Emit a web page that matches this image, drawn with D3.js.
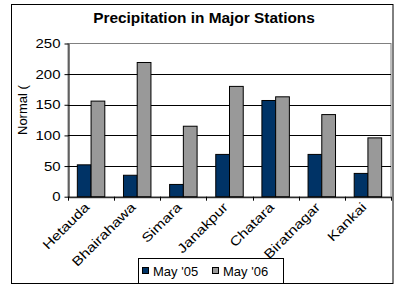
<!DOCTYPE html>
<html><head><meta charset="utf-8">
<script src="https://cdn.jsdelivr.net/npm/d3@7"></script>
<style>body{margin:0;background:#fff}svg{display:block}text{font-family:Arial,"Liberation Sans",sans-serif;fill:#000}</style>
</head><body><div id="c"></div>
<script>
const categories = ["Hetauda","Bhairahawa","Simara","Janakpur","Chatara","Biratnagar","Kankai"];
const may05 = [52, 35, 20, 69, 157, 69, 38];
const may06 = [156, 219, 115, 180, 163, 134, 96];
const seriesNames = ["May '05", "May '06"];
const yTicks = [0, 50, 100, 150, 200, 250];
const title = "Precipitation in Major Stations";
const yLabel = "Normal (";

const W = 398, H = 287;
const colors = ["#003366", "#999999"];
const svg = d3.select("#c").append("svg").attr("width", W).attr("height", H);

// outer border
svg.append("rect").attr("x", 11.5).attr("y", 4.5).attr("width", 381.5).attr("height", 279)
  .attr("fill", "#fff").attr("stroke", "#000").attr("stroke-width", 1);

const L = 68, R = 391, T = 43.5, B = 196.7;
const x = d3.scaleBand().domain(categories).range([L, R]).paddingInner(0).paddingOuter(0);
const x1 = d3.scaleBand().domain(seriesNames).range([0, x.bandwidth()]).paddingInner(0).paddingOuter(0.68);
const y = d3.scaleLinear().domain([0, 250]).range([B, T]);

function stretch(sel, f) {
  sel.each(function () {
    const len = this.getComputedTextLength();
    d3.select(this).attr("textLength", len * f).attr("lengthAdjust", "spacingAndGlyphs");
  });
}

// plot area border (gray)
svg.append("rect").attr("x", L).attr("y", T).attr("width", R - L).attr("height", B - T)
  .attr("fill", "none").attr("stroke", "#808080").attr("stroke-width", 1);

// gridlines
svg.append("g").selectAll("line").data(yTicks.filter(d => d > 0 && d < 250)).join("line")
  .attr("x1", L).attr("x2", R).attr("y1", d => Math.round(y(d)) + 0.5).attr("y2", d => Math.round(y(d)) + 0.5)
  .attr("stroke", "#000").attr("stroke-width", 1);

// bars
const data = categories.map((c, i) => ({ c, vals: [may05[i], may06[i]] }));
const g = svg.append("g");
data.forEach(d => {
  d.vals.forEach((v, j) => {
    g.append("rect")
      .attr("x", x(d.c) + x1(seriesNames[j]))
      .attr("y", y(v))
      .attr("width", x1.bandwidth())
      .attr("height", B - y(v))
      .attr("fill", colors[j]).attr("stroke", "#000").attr("stroke-width", 1);
  });
});

// y axis
const yAxis = svg.append("g").attr("transform", `translate(${L + 0.5},0)`)
  .call(d3.axisLeft(y).tickValues(yTicks).tickSize(4).tickPadding(4).tickSizeOuter(0));
yAxis.select(".domain").attr("stroke", "#000");
yAxis.selectAll(".tick line").attr("stroke", "#000");
yAxis.selectAll("text").attr("font-size", 13).style("font-family", "Arial, 'Liberation Sans', sans-serif");
stretch(yAxis.selectAll("text"), 1.15);

// x axis
const xAxis = svg.append("g").attr("transform", `translate(0,${B + 0.5})`)
  .call(d3.axisBottom(x).tickSize(0).tickFormat(""));
xAxis.select(".domain").attr("stroke", "#000");
xAxis.selectAll(".tick").remove();
const bounds = categories.map(c => x(c)).concat([R]);
svg.append("g").selectAll("line").data(bounds).join("line")
  .attr("x1", d => Math.round(d) + 0.5).attr("x2", d => Math.round(d) + 0.5)
  .attr("y1", B).attr("y2", B + 4).attr("stroke", "#000");

const xl = svg.append("g").selectAll("text").data(categories).join("text")
  .attr("transform", d => `translate(${x(d) + x.bandwidth() / 2 - 4},${B + 8}) rotate(-45)`)
  .attr("text-anchor", "end").attr("dy", "0.35em")
  .attr("font-size", 13).text(d => d);
stretch(xl, 1.22);

// title
const t = svg.append("text").attr("x", 204).attr("y", 23).attr("text-anchor", "middle")
  .attr("font-size", 14).attr("font-weight", "bold").text(title);
stretch(t, 1.1);

// y label
svg.append("text").attr("transform", `translate(27,135) rotate(-90)`)
  .attr("text-anchor", "start").attr("font-size", 13).text(yLabel);

// legend
const lg = svg.append("g");
lg.append("rect").attr("x", 138.5).attr("y", 258.5).attr("width", 145).attr("height", 25)
  .attr("fill", "#fff").attr("stroke", "#000");
const lx = [142, 212];
seriesNames.forEach((s, j) => {
  lg.append("rect").attr("x", lx[j] + 0.5).attr("y", 267.5).attr("width", 6).attr("height", 6)
    .attr("fill", colors[j]).attr("stroke", "#000");
  lg.append("text").attr("x", lx[j] + 11).attr("y", 275.5).attr("font-size", 13).text(s);
});
</script></body></html>
